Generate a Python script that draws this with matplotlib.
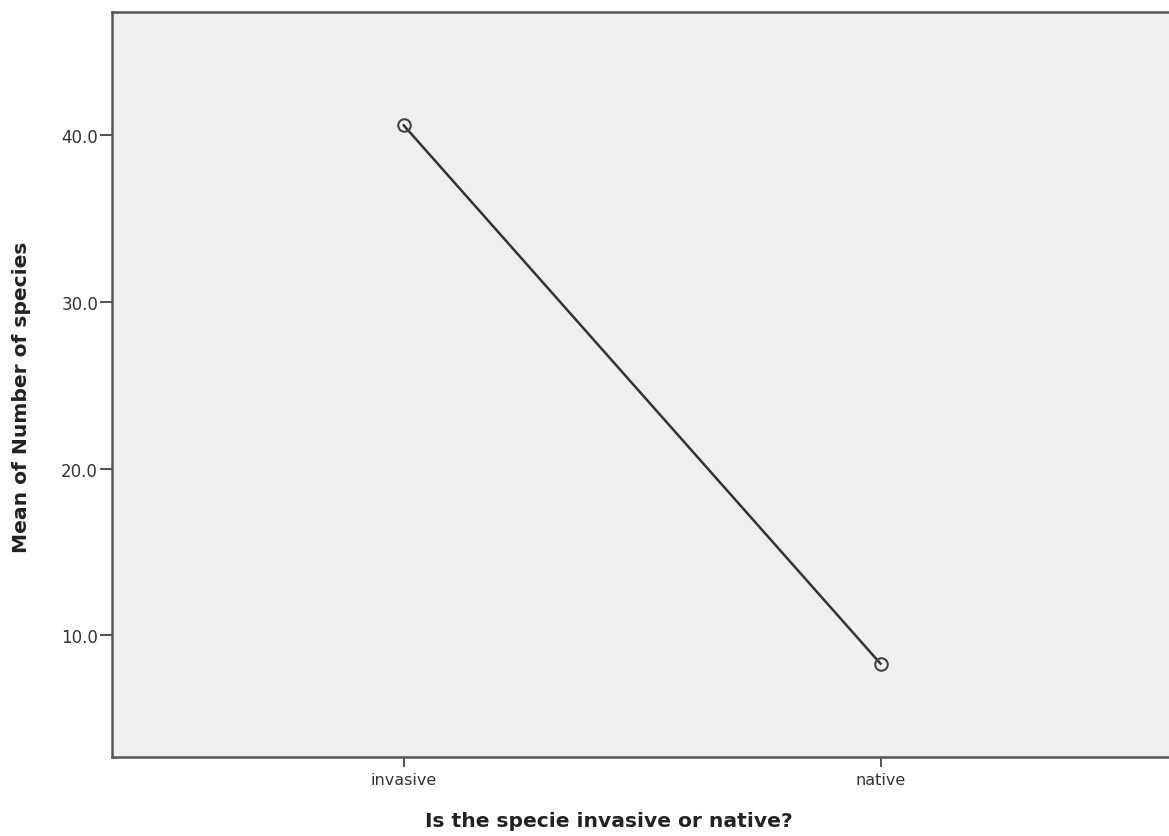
import matplotlib
matplotlib.use("Agg")
from matplotlib import pyplot as plt

categories = ['invasive', 'native']
means = [40.6, 8.3]
yticks = [10.0, 20.0, 30.0, 40.0]

fig = plt.figure(figsize=(11.69, 8.37), dpi=100)
ax = fig.add_axes([0.0958, 0.0944, 0.907, 0.890])
ax.set_facecolor('#efefef')

x = list(range(len(categories)))
ax.plot(x, means, color='#333333', lw=1.8, marker='o', ms=9,
        mfc='none', mec='#444444', mew=1.5)

ax.set_xlim(-0.612, 1.612)
ax.set_ylim(2.7, 47.4)
ax.set_xticks(x)
ax.set_xticklabels(categories, fontsize=11.5, family='DejaVu Sans', color='#333333')
ax.set_yticks(yticks)
ax.set_yticklabels(['%.1f' % v for v in yticks], fontsize=12,
                   family='DejaVu Sans', color='#333333')
ax.tick_params(axis='y', direction='out', length=9, width=1.2, color='#333333', pad=1)
ax.tick_params(axis='x', direction='out', length=7, width=1.2, color='#333333', pad=4)

for s in ['left', 'top', 'bottom', 'right']:
    ax.spines[s].set_color('#555555')
    ax.spines[s].set_linewidth(1.8)

fig.text(425 / 1169 + (793 - 425) / 2 / 1169, 1 - 822 / 837,
         'Is the specie invasive or native?', fontsize=14.6,
         fontweight='bold', family='DejaVu Sans', color='#222222',
         ha='center', va='center')
fig.text(22 / 1169, 1 - 397 / 837, 'Mean of Number of species', fontsize=14.6,
         fontweight='bold', family='DejaVu Sans', color='#222222',
         ha='center', va='center', rotation=90)

fig.savefig('out.png', dpi=100)
